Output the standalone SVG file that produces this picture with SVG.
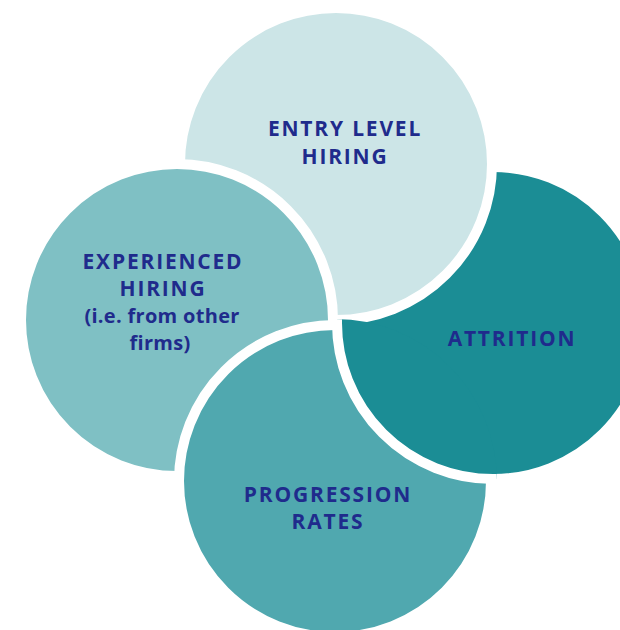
<svg xmlns="http://www.w3.org/2000/svg" width="620" height="630" viewBox="0 0 620 630">
<style>
.c{stroke:#fff;stroke-width:10}
.t{font-family:"Open Sans","Liberation Sans",sans-serif;font-weight:bold;font-size:21px;letter-spacing:1.8px;fill:#1F2B8C;text-anchor:middle}
.l{font-size:20px;letter-spacing:0.3px}
</style>
<defs>
<clipPath id="bottomClip"><circle cx="335" cy="481" r="162"/></clipPath>
</defs>
<rect width="620" height="630" fill="#fff"/>
<g id="attrition">
<circle class="c" cx="493" cy="323" r="156" fill="#1B8D95"/>
</g>
<g id="entry-level-hiring">
<circle class="c" cx="336" cy="164" r="156" fill="#CCE5E7"/>
</g>
<g id="experienced-hiring">
<circle class="c" cx="177" cy="320" r="156" fill="#7FC0C4"/>
</g>
<g id="progression-rates">
<circle class="c" cx="335" cy="481" r="156" fill="#50A8AF"/>
</g>
<g id="attrition-overlap" clip-path="url(#bottomClip)">
<circle class="c" cx="493" cy="323" r="156" fill="#1B8D95"/>
</g>
<g id="labels">
<text class="t" x="345" y="136">ENTRY LEVEL</text>
<text class="t" x="345" y="164">HIRING</text>
<text class="t" x="163" y="269">EXPERIENCED</text>
<text class="t" x="163" y="296">HIRING</text>
<text class="t l" x="162" y="323">(i.e. from other</text>
<text class="t l" x="160" y="350">firms)</text>
<text class="t" x="512" y="346">ATTRITION</text>
<text class="t" x="328" y="502">PROGRESSION</text>
<text class="t" x="328" y="529">RATES</text>
</g>
</svg>
